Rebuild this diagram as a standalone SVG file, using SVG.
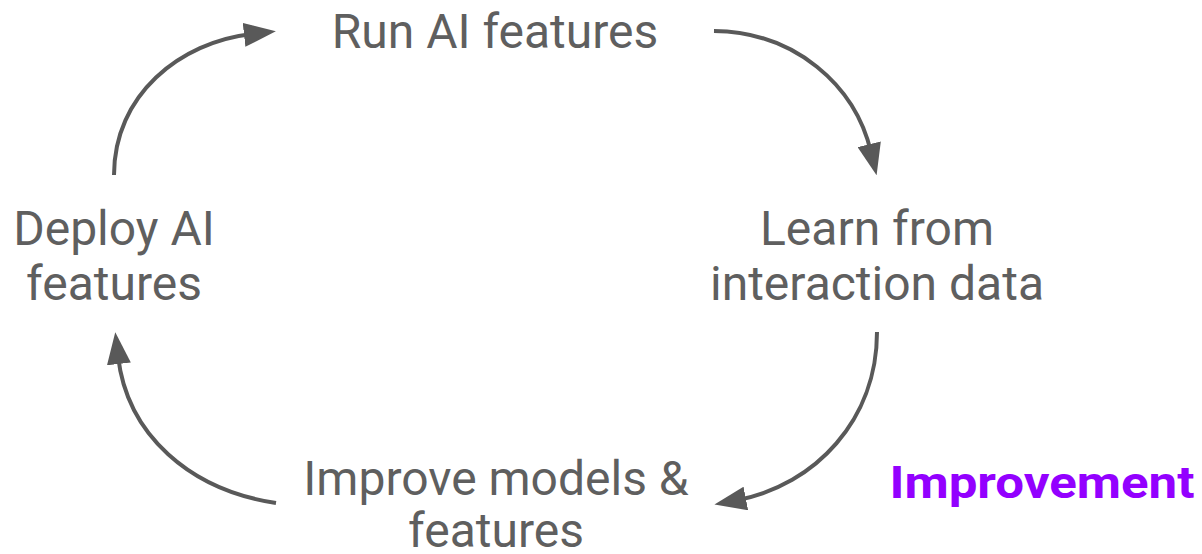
<svg xmlns="http://www.w3.org/2000/svg" width="1202" height="554" viewBox="0 0 1202 554">
<style>
.t{font-family:Roboto,"Open Sans",sans-serif;font-size:48px;fill:#5f5f5f;text-anchor:middle}
.c{fill:none;stroke:#595959;stroke-width:4}
.h{font-family:Roboto,"Open Sans",sans-serif;font-size:45px;font-weight:bold;fill:#9300ff;text-anchor:middle}
</style>
<defs>
<marker id="ah" markerWidth="8" markerHeight="6" refX="2" refY="3" orient="auto" markerUnits="strokeWidth" viewBox="0 0 8 6">
<path d="M0,0 L8,3 L0,6 Z" fill="#595959"/>
</marker>
</defs>
<rect width="1202" height="554" fill="#fff"/>
<g id="connectors">
<path class="c" d="M114,175 C114,95 180,42 252,34" marker-end="url(#ah)"/>
<path class="c" d="M714,31 C795,32 855,85 871,152" marker-end="url(#ah)"/>
<path class="c" d="M877,332 C877,420 815,485 738,500" marker-end="url(#ah)"/>
<path class="c" d="M276,503 C190,490 127,435 118,356" marker-end="url(#ah)"/>
</g>
<g id="run"><text class="t" x="495" y="48">Run AI features</text></g>
<g id="deploy"><text class="t" x="114" y="245">Deploy AI</text><text class="t" x="114" y="300">features</text></g>
<g id="learn"><text class="t" x="877" y="245">Learn from</text><text class="t" x="877" y="300">interaction data</text></g>
<g id="improve"><text class="t" x="496" y="495">Improve models &amp;</text><text class="t" x="496" y="547">features</text></g>
<g id="label"><text class="h" x="1042" y="498" textLength="305" lengthAdjust="spacingAndGlyphs">Improvement</text></g>
</svg>
